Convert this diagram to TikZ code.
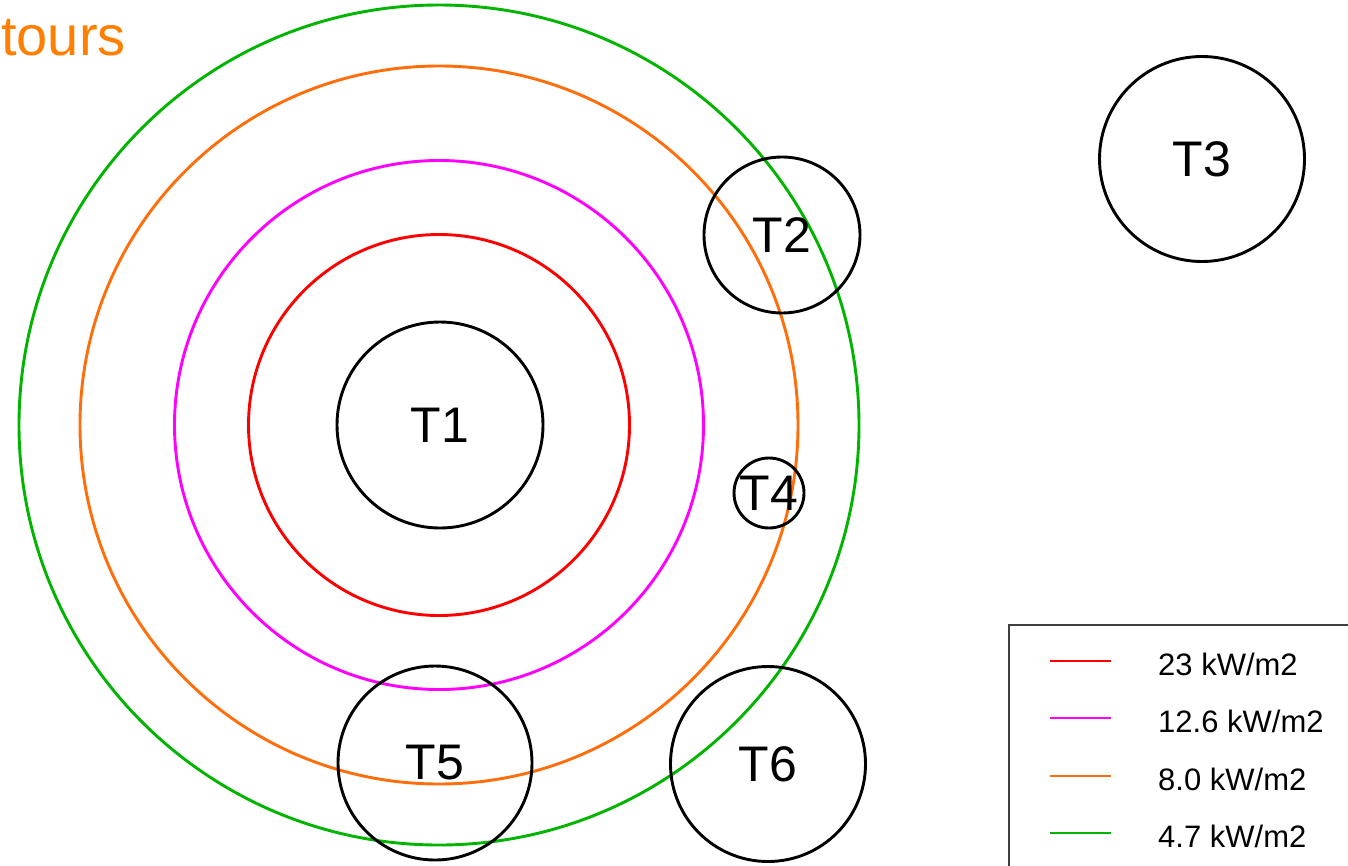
\documentclass[tikz,border=0pt]{standalone}
\usepackage{fontspec}
\setmainfont{Liberation Sans}
\definecolor{cRed}{RGB}{255,0,0}
\definecolor{cMag}{RGB}{255,0,255}
\definecolor{cOra}{RGB}{255,110,10}
\definecolor{cGrn}{RGB}{0,180,0}
\definecolor{cTitle}{RGB}{255,128,0}
\tikzset{
  tank/.style={draw=black, line width=2.9pt, circle, inner sep=0pt, font=\fontsize{50}{50}\selectfont},
  contour/.style={line width=2.9pt},
  legline/.style={line width=2.4pt},
  legtext/.style={anchor=base west, inner sep=0pt, font=\fontsize{31}{31}\selectfont},
}
\begin{document}
\begin{tikzpicture}[x=1pt,y=-1pt]
\useasboundingbox (0,0) rectangle (1348,865);
\clip (0,0) rectangle (1348,865);
\fill[white] (0,0) rectangle (1348,865);
% title fragment
\node[anchor=base west, inner sep=0pt, text=cTitle, font=\fontsize{56}{56}\selectfont] (title) at (1,55) {tours};
% contours
\coordinate (c) at (439,425);
\draw[contour, cRed] (c) circle (190.5pt);
\draw[contour, cMag] (c) circle (264.5pt);
\draw[contour, cOra] (c) circle (359pt);
\draw[contour, cGrn] (c) circle (420pt);
% tanks
\node[tank, minimum size=206pt] (T1) at (440,425) {T1};
\node[tank, minimum size=156pt] (T2) at (782,235) {T2};
\node[tank, minimum size=205pt] (T3) at (1202,159) {T3};
\node[tank, minimum size=70pt] (T4) at (769,493) {T4};
\node[tank, minimum size=194pt] (T5) at (435,763) {T5};
\node[tank, minimum size=195pt] (T6) at (768,764) {T6};
% legend
\draw[line width=1.5pt, black!75] (1009,625) rectangle (1370,890);
\coordinate (l1a) at (1050,661); \coordinate (l1b) at (1111,661);
\coordinate (l2a) at (1050,718); \coordinate (l2b) at (1111,718);
\coordinate (l3a) at (1050,776); \coordinate (l3b) at (1111,776);
\coordinate (l4a) at (1050,833); \coordinate (l4b) at (1111,833);
\draw[legline, cRed] (l1a) -- (l1b);
\draw[legline, cMag] (l2a) -- (l2b);
\draw[legline, cOra] (l3a) -- (l3b);
\draw[legline, cGrn] (l4a) -- (l4b);
\node[legtext] (t1) at (1158,675) {23 kW/m2};
\node[legtext] (t2) at (1158,732) {12.6 kW/m2};
\node[legtext] (t3) at (1158,790) {8.0 kW/m2};
\node[legtext] (t4) at (1158,847) {4.7 kW/m2};
\end{tikzpicture}
\end{document}
